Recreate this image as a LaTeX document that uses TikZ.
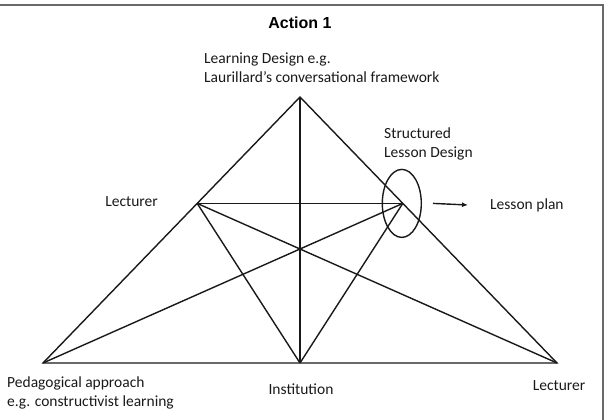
\documentclass[tikz,border=0pt]{standalone}
\usepackage{fontspec}
\setmainfont{Carlito}
\newfontfamily\titlefont{Liberation Sans}
\usetikzlibrary{calc,arrows.meta,shapes.geometric}
\definecolor{framegray}{RGB}{105,105,105}
\definecolor{inkline}{RGB}{25,25,25}

\begin{document}
\begin{tikzpicture}[x=1pt,y=-1pt,
    edge/.style={inkline,line width=1.4pt},
    lbl/.style={inner sep=0pt,font=\fontsize{15.5}{19}\selectfont,align=left,text=inkline}]
        \useasboundingbox (0,0) rectangle (605,420);
        \draw[framegray,line width=2pt] (0,5) -- (603,5) -- (603,420);
        \coordinate (apex) at (300,97);
        \coordinate (ped) at (43,363);
        \coordinate (lectR) at (557,363);
        \coordinate (inst) at ($(ped)!0.5!(lectR)$);
        \coordinate (lectL) at ($(apex)!0.4!(ped)$);
        \coordinate (sld) at ($(apex)!0.4!(lectR)$);
        \draw[edge] (ped) -- (apex) -- (lectR) -- cycle;
        \draw[edge] (apex) -- (inst);
        \draw[edge] (lectL) -- (sld);
        \draw[edge] (lectL) -- (inst);
        \draw[edge] (lectL) -- (lectR);
        \draw[edge] (sld) -- (inst);
        \draw[edge] (sld) -- (ped);
        \node[ellipse,draw,inkline,line width=1.4pt,minimum width=39pt,minimum height=68pt,inner sep=0pt] (ring) at ($(sld)+(-1,0)$) {};
        \node[font=\titlefont\bfseries\fontsize{16}{19}\selectfont] (title) at (300,23) {Action 1};
        \node[lbl,anchor=west] (ldes) at (204,68) {Learning Design e.g.\\Laurillard’s conversational framework};
        \node[lbl,anchor=west] (sdes) at (384,144) {Structured\\Lesson Design};
        \node[lbl,anchor=east] (lecL) at (158,202) {Lecturer};
        \node[lbl,anchor=west] (plan) at (490,205) {Lesson plan};
        \node[lbl,anchor=west] (pedlbl) at (7,393) {Pedagogical approach\\e.g. constructivist learning};
        \node[lbl] (instlbl) at (301,389) {Institution};
        \node[lbl] (lecR) at (559,386) {Lecturer};
        \draw[inkline,line width=1.4pt,-{Latex[length=6pt,width=5pt]}] ([xshift=11pt]ring.east) -- ([xshift=-22pt]plan.west);
      \end{tikzpicture}
\end{document}
